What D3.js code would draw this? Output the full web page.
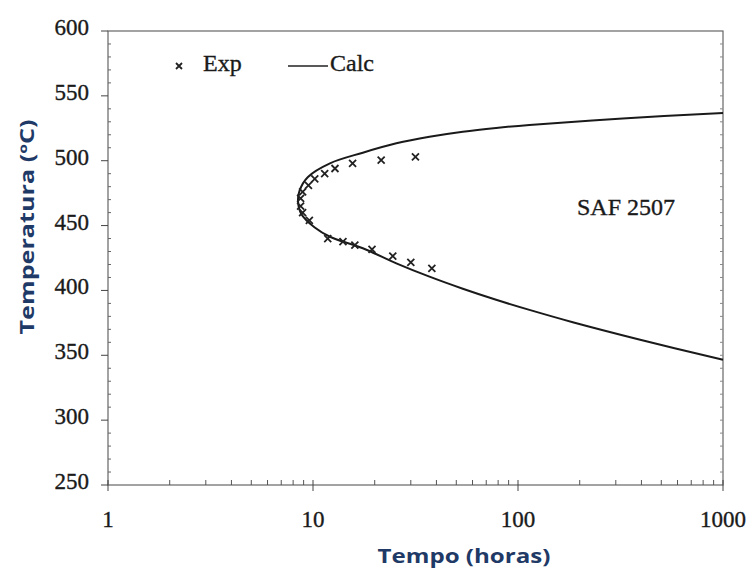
<!DOCTYPE html>
<html>
<head>
<meta charset="utf-8">
<script src="https://cdn.jsdelivr.net/npm/d3@7"></script>
<style>
  html, body { margin: 0; padding: 0; background: #fff; }
  svg { display: block; }
  .tick-label { font-family: "Liberation Serif", "Times New Roman", serif; font-size: 23px; fill: #1a1a1a; stroke: #1a1a1a; stroke-width: 0.35px; }
  .axis-title { font-family: "Open Sans", "Noto Sans", sans-serif; font-weight: bold; font-size: 19px; fill: #1f3a66; }
</style>
</head>
<body>
<div id="chart"></div>
<script>
// experimental points (hours, degC)
var expTime = [31.6, 21.5, 15.6, 12.8, 11.4, 10.2, 9.5, 8.9, 8.7, 8.7, 8.9, 9.6, 11.8, 14, 16, 19.4, 24.5, 30, 38];
var expTemp = [503, 500.5, 498, 494, 490, 486, 481, 476, 471, 465, 460, 454, 440, 437.6, 435, 431.7, 426.5, 421.7, 417];

// calculated C-curve, traced from upper end round the nose to lower end
var calcTime = [1000, 324, 113.7, 78.2, 53.8, 37, 25.5, 17.5, 12.1, 9.45, 8.6, 8.45, 8.77, 10.2, 12.1, 17.5, 25.5, 37, 53.8, 78.2, 113.7, 185, 390, 1000];
var calcTemp = [536.8, 532.6, 527.6, 525.3, 522.4, 518.5, 513.4, 506.2, 498, 487.5, 477, 469, 459, 448.5, 441.4, 432.5, 420.9, 410.6, 401.3, 392.8, 385, 375.5, 362.2, 346.5];

var xTicks = [1, 10, 100, 1000];
var yTicks = [250, 300, 350, 400, 450, 500, 550, 600];

var W = 750, H = 572;
var x = d3.scaleLog().domain([1, 1000]).range([108, 723]);
var y = d3.scaleLinear().domain([250, 600]).range([485, 31]);

var svg = d3.select('#chart').append('svg')
  .attr('width', W)
  .attr('height', H);

// frame
svg.append('rect')
  .attr('x', x(1)).attr('y', y(600))
  .attr('width', x(1000) - x(1)).attr('height', y(250) - y(600))
  .attr('fill', 'none')
  .attr('stroke', '#666')
  .attr('stroke-width', 1.2);

// left axis: major ticks out, minor in
svg.append('g').selectAll('line').data(yTicks).join('line')
  .attr('x1', x(1) - 7).attr('x2', x(1))
  .attr('y1', function(d){ return y(d); }).attr('y2', function(d){ return y(d); })
  .attr('stroke', '#444');
svg.append('g').selectAll('line').data(d3.range(260, 600, 10).filter(function(d){ return d % 50; })).join('line')
  .attr('x1', x(1)).attr('x2', x(1) + 3)
  .attr('y1', function(d){ return y(d); }).attr('y2', function(d){ return y(d); })
  .attr('stroke', '#666');
// right axis minor ticks
svg.append('g').selectAll('line').data(d3.range(260, 600, 10)).join('line')
  .attr('x1', x(1000) - 3).attr('x2', x(1000))
  .attr('y1', function(d){ return y(d); }).attr('y2', function(d){ return y(d); })
  .attr('stroke', '#888');

svg.append('g').selectAll('text').data(yTicks).join('text')
  .attr('class', 'tick-label')
  .attr('x', 89)
  .attr('y', function(d){ return y(d) + 4; })
  .attr('text-anchor', 'end')
  .text(function(d){ return d; });

// bottom axis
var minor = [];
[1, 10, 100].forEach(function(dec){
  for (var k = 2; k <= 9; k++) minor.push(dec * k);
});
svg.append('g').selectAll('line').data(xTicks).join('line')
  .attr('x1', function(d){ return x(d); }).attr('x2', function(d){ return x(d); })
  .attr('y1', y(250) - 5).attr('y2', y(250) + 6)
  .attr('stroke', '#444');
svg.append('g').selectAll('line').data(minor).join('line')
  .attr('x1', function(d){ return x(d); }).attr('x2', function(d){ return x(d); })
  .attr('y1', y(250) - 5).attr('y2', y(250))
  .attr('stroke', '#555');

svg.append('g').selectAll('text').data(xTicks).join('text')
  .attr('class', 'tick-label')
  .attr('x', function(d){ return x(d); })
  .attr('y', 527)
  .attr('text-anchor', 'middle')
  .text(function(d){ return d; });

// calc curve
var line = d3.line()
  .x(function(d){ return x(d[0]); })
  .y(function(d){ return y(d[1]); })
  .curve(d3.curveCatmullRom);

svg.append('path')
  .datum(d3.zip(calcTime, calcTemp))
  .attr('d', line)
  .attr('fill', 'none')
  .attr('stroke', '#1a1a1a')
  .attr('stroke-width', 2);

// exp points
var cross = function(cx, cy, s){
  return 'M' + (cx - s) + ',' + (cy - s) + 'L' + (cx + s) + ',' + (cy + s) +
         'M' + (cx - s) + ',' + (cy + s) + 'L' + (cx + s) + ',' + (cy - s);
};
svg.append('g').selectAll('path').data(d3.zip(expTime, expTemp)).join('path')
  .attr('d', function(d){ return cross(x(d[0]), y(d[1]), 3.5); })
  .attr('stroke', '#222')
  .attr('stroke-width', 1.8);

// legend
svg.append('path').attr('d', cross(179, 66, 3)).attr('stroke', '#222').attr('stroke-width', 1.8);
svg.append('text').attr('class', 'tick-label').attr('x', 203).attr('y', 71).style('font-size', '24px').text('Exp');
svg.append('line').attr('x1', 288).attr('x2', 328).attr('y1', 66).attr('y2', 66)
  .attr('stroke', '#222').attr('stroke-width', 1.5);
svg.append('text').attr('class', 'tick-label').attr('x', 330).attr('y', 71).style('font-size', '24px').text('Calc');

svg.append('text')
  .attr('class', 'tick-label')
  .attr('x', 577).attr('y', 215)
  .style('font-size', '24px')
  .text('SAF 2507');

// axis titles
svg.append('text')
  .attr('class', 'axis-title')
  .attr('transform', 'translate(34,227) rotate(-90)')
  .attr('text-anchor', 'middle')
  .attr('textLength', 215)
  .attr('lengthAdjust', 'spacingAndGlyphs')
  .text('Temperatura (ºC)');

svg.append('text')
  .attr('class', 'axis-title')
  .attr('x', 464).attr('y', 563)
  .attr('text-anchor', 'middle')
  .attr('textLength', 173)
  .attr('lengthAdjust', 'spacingAndGlyphs')
  .text('Tempo (horas)');
</script>
</body>
</html>
